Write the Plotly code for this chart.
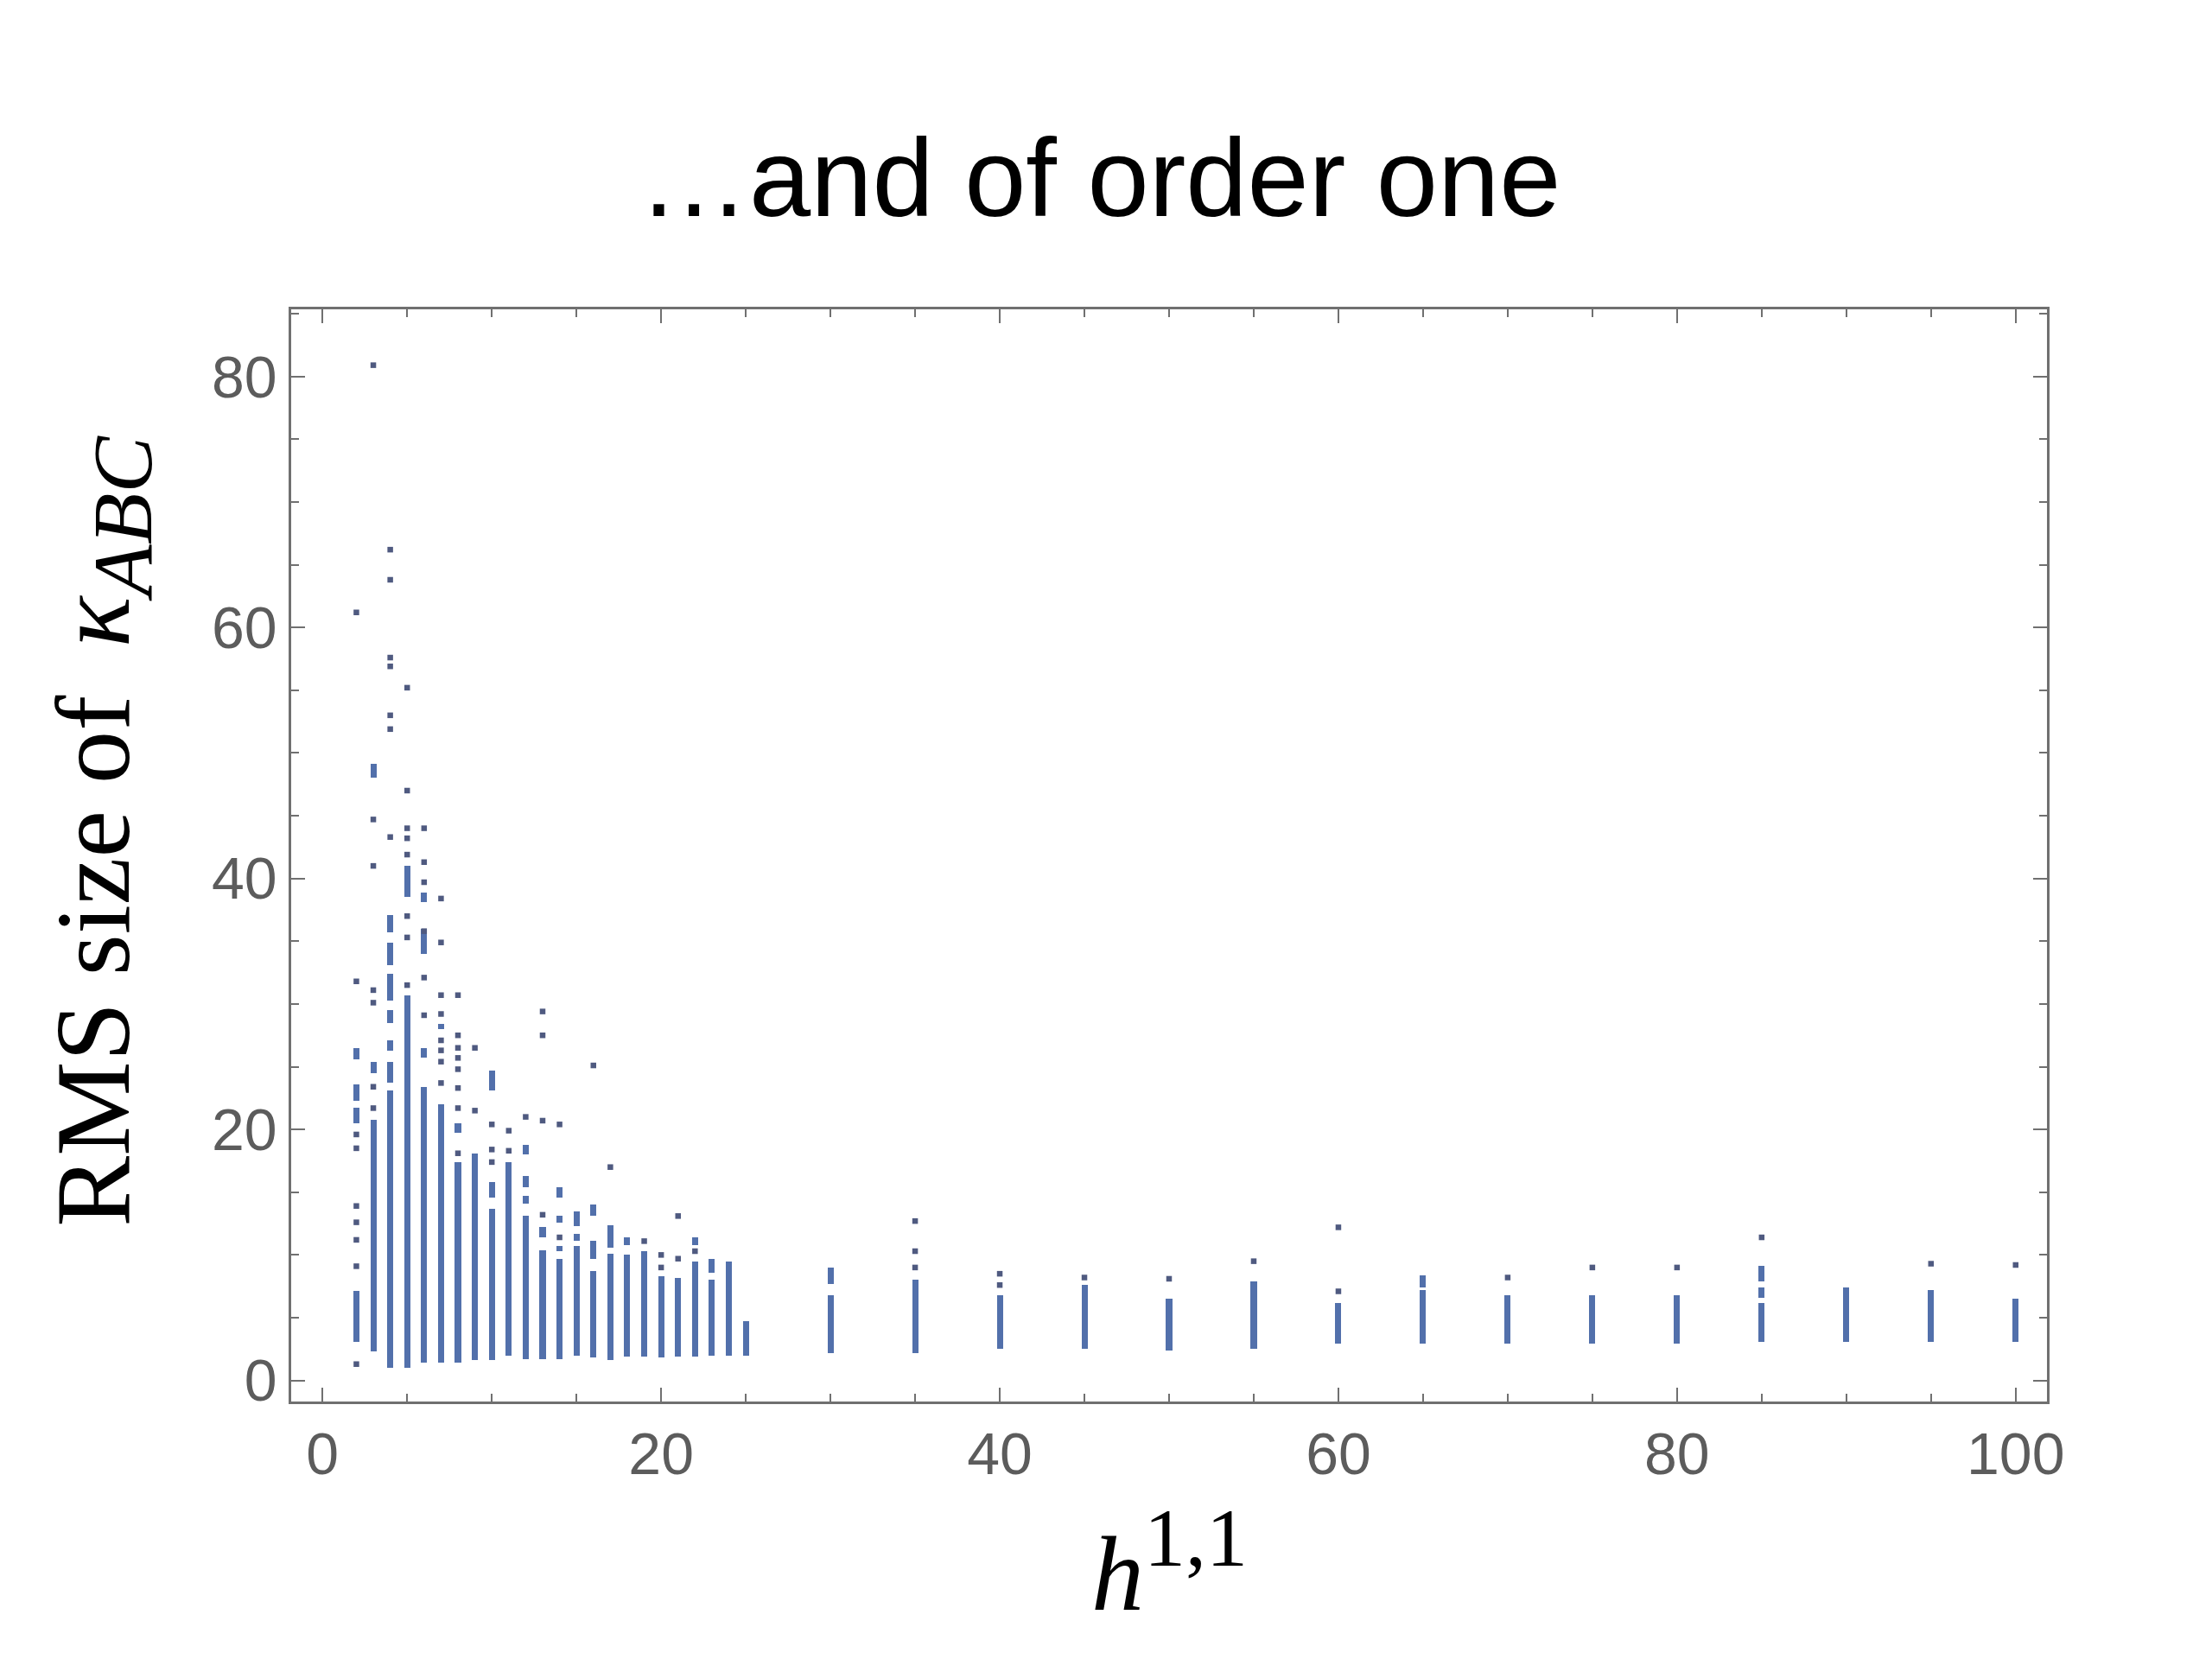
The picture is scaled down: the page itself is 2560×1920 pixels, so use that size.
import plotly.graph_objects as go

# ---- data ----
# dense runs of points: (h11, low, high)
seg_x = [2, 2, 2, 2,
         3, 3, 3,
         4, 4, 4, 4, 4, 4, 4,
         5, 5,
         6, 6, 6, 6,
         7, 7,
         8, 8,
         9,
         10, 10, 10,
         11,
         12, 12, 12, 12,
         13, 13,
         14, 14, 14, 14,
         15, 15, 15,
         16, 16, 16,
         17, 17,
         18, 18,
         19,
         20,
         21,
         22, 22,
         23, 23,
         24,
         25,
         30, 30,
         35,
         40,
         45,
         50,
         55,
         60,
         65, 65,
         70,
         75,
         80,
         85, 85, 85,
         90,
         95,
         100]
seg_lo = [25.6, 22.3, 20.5, 3.1,
          48.0, 24.5, 2.3,
          35.7, 33.1, 30.3, 28.5, 26.3, 23.7, 1.0,
          38.5, 1.0,
          38.1, 34.0, 25.7, 1.4,
          28.0, 1.4,
          19.7, 1.4,
          1.6,
          23.1, 14.6, 1.6,
          2.0,
          18.0, 15.4, 14.1, 1.7,
          11.4, 1.7,
          14.6, 12.6, 10.3, 1.7,
          12.3, 11.1, 2.0,
          13.1, 9.7, 1.8,
          10.6, 1.6,
          10.8, 1.9,
          1.9,
          1.8,
          1.9,
          10.8, 1.9,
          8.6, 2.0,
          2.0,
          2.0,
          7.7, 2.2,
          2.2,
          2.5,
          2.5,
          2.4,
          2.5,
          2.9,
          7.4, 2.9,
          2.9,
          2.9,
          2.9,
          7.9, 6.6, 3.1,
          3.1,
          3.1,
          3.1]
seg_hi = [26.5, 23.6, 21.7, 7.1,
          49.1, 25.4, 20.8,
          37.1, 34.9, 32.4, 29.5, 27.1, 25.4, 23.1,
          41.0, 30.7,
          38.9, 36.0, 26.5, 23.4,
          28.4, 22.0,
          20.5, 17.4,
          18.1,
          24.7, 15.8, 13.7,
          17.4,
          18.8, 16.3, 14.7, 13.1,
          12.2, 10.4,
          15.4, 13.1, 10.7, 9.7,
          13.5, 11.7, 10.7,
          14.0, 11.1, 8.7,
          12.4, 10.1,
          11.4, 10.0,
          10.3,
          8.3,
          8.2,
          11.4, 9.5,
          9.7, 8.0,
          9.5,
          4.7,
          9.0, 6.8,
          8.0,
          6.8,
          7.6,
          6.5,
          7.9,
          6.2,
          8.4, 7.2,
          6.8,
          6.8,
          6.8,
          9.1, 7.4, 6.2,
          7.4,
          7.2,
          6.5]

# isolated points: (h11, value)
pt_x = [2, 2, 2, 2, 2, 2, 2, 2, 2,
        3, 3, 3, 3, 3, 3, 3,
        4, 4, 4, 4, 4, 4, 4,
        5, 5, 5, 5, 5, 5, 5, 5,
        6, 6, 6, 6, 6, 6,
        7, 7, 7, 7, 7, 7, 7, 7,
        8, 8, 8, 8, 8, 8, 8, 8,
        9, 9,
        10, 10, 10,
        11, 11,
        12,
        13, 13, 13, 13,
        14, 14,
        16,
        17,
        19,
        20, 20,
        21, 21,
        22,
        35, 35, 35,
        40, 40,
        45,
        50,
        55,
        60, 60,
        70,
        75,
        80,
        85,
        95,
        100]
pt_y = [61.2, 31.8, 19.6, 18.5, 13.9, 12.6, 11.2, 9.1, 1.3,
        80.9, 44.7, 41.0, 31.1, 30.1, 23.4, 21.7,
        66.2, 63.8, 57.6, 56.9, 53.0, 51.9, 43.3,
        55.2, 47.0, 44.0, 43.2, 41.9, 37.0, 35.3, 31.5,
        44.0, 41.3, 39.7, 32.1, 29.1, 35.8,
        38.4, 34.9, 30.7, 29.2, 27.1, 26.3, 25.4, 23.7,
        30.7, 27.5, 26.5, 25.7, 24.8, 23.3, 21.7, 18.1,
        26.5, 21.5,
        20.4, 18.4, 17.4,
        19.9, 18.3,
        21.0,
        29.4, 27.5, 20.7, 13.2,
        20.4, 11.4,
        25.1,
        17.0,
        11.1,
        10.0, 9.0,
        13.1, 9.7,
        10.3,
        12.7, 10.3, 9.0,
        8.5, 7.6,
        8.2,
        8.1,
        9.5,
        12.2, 7.1,
        8.2,
        9.0,
        9.0,
        11.4,
        9.3,
        9.2]

x_tickvals = [0, 20, 40, 60, 80, 100]
y_tickvals = [0, 20, 40, 60, 80]

title_text = "…and of order one"
xlabel_text = "<i>h</i><sup><span style='font-size:96px'>1,1</span></sup>"
ylabel_text = ("RMS size of\u2009 <i>κ</i><sub><span style='font-size:98px'>"
               "<i>ABC</i></span></sub>")

BAR_COLOR = "#5270ab"
PT_COLOR = "#4f5a80"

fig = go.Figure()
fig.add_trace(go.Bar(
    x=seg_x,
    y=[h - l for h, l in zip(seg_hi, seg_lo)],
    base=seg_lo,
    width=0.36,
    marker=dict(color=BAR_COLOR, line=dict(width=0)),
    showlegend=False,
))
fig.add_trace(go.Scatter(
    x=pt_x, y=pt_y, mode="markers",
    marker=dict(symbol="square", size=6.5, color=PT_COLOR, line=dict(width=0)),
    showlegend=False,
))

axis_common = dict(
    showline=True, linecolor="#707070", linewidth=2.5, mirror="ticks",
    ticks="inside", ticklen=16, tickwidth=2, tickcolor="#707070",
    showgrid=False, zeroline=False,
    tickfont=dict(family="Liberation Sans, Arial, sans-serif", size=68, color="#5c5c5c"),
    minor=dict(ticks="inside", ticklen=9, tickwidth=1.5, tickcolor="#707070", dtick=5, showgrid=False),
)

fig.update_xaxes(range=[-1.85, 101.85], tickvals=x_tickvals, **axis_common)
fig.update_yaxes(range=[-1.68, 85.35], tickvals=y_tickvals, **axis_common)

fig.update_layout(
    width=2560, height=1920,
    margin=dict(l=329, r=199, t=350, b=306),
    paper_bgcolor="white", plot_bgcolor="white",
    barmode="overlay",
    bargap=0,
    annotations=[
        dict(text=title_text, xref="paper", yref="paper", x=0.4606, y=1.121,
             xanchor="center", yanchor="middle", showarrow=False,
             font=dict(family="Liberation Sans, Arial, sans-serif", size=128, color="black")),
        dict(text=xlabel_text, xref="paper", yref="paper", x=0.5, y=-0.147,
             xanchor="center", yanchor="middle", showarrow=False,
             font=dict(family="Liberation Serif, Times New Roman, serif", size=122, color="black")),
        dict(text=ylabel_text, xref="paper", yref="paper", x=-0.108, y=0.522,
             xanchor="center", yanchor="middle", showarrow=False, textangle=-90,
             font=dict(family="Liberation Serif, Times New Roman, serif", size=123, color="black")),
    ],
)

fig.write_html("out.html")
